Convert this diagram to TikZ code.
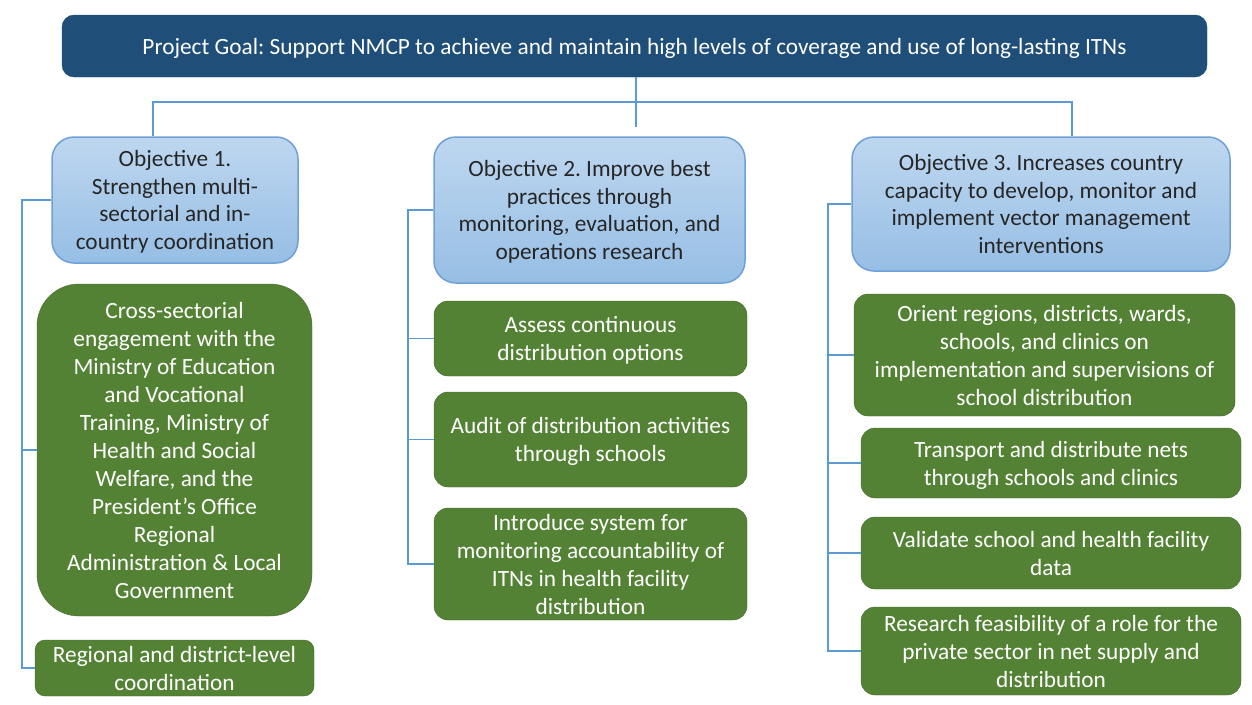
\documentclass[tikz,border=0pt]{standalone}
\usepackage{fontspec}
\setmainfont{Carlito}
\frenchspacing
\usetikzlibrary{calc}
\definecolor{goalblue}{RGB}{31,78,121}
\definecolor{objtop}{RGB}{190,215,240}
\definecolor{objbot}{RGB}{150,190,228}
\definecolor{objedge}{RGB}{110,160,215}
\definecolor{taskgreen}{RGB}{84,130,53}
\definecolor{taskedge}{RGB}{70,105,50}
\definecolor{linkblue}{RGB}{91,155,213}

\tikzset{
  goalbox/.style={draw=goalblue, fill=goalblue, text=white, rounded corners=12pt,
    align=center, inner sep=0pt, text depth=0pt, font=\fontsize{23.3}{28}\selectfont},
  objbox/.style={draw=objedge, line width=1.5pt, top color=objtop, bottom color=objbot,
    rounded corners=22pt, align=center, inner sep=0pt, text depth=0pt, text=black!85,
    font=\fontsize{23.3}{27.5}\selectfont},
  taskbox/.style={draw=taskedge, fill=taskgreen, text=white, rounded corners=14pt,
    align=center, inner sep=0pt, text depth=0pt, font=\fontsize{23.3}{28}\selectfont},
  link/.style={draw=linkblue, line width=1.2pt}
}

\begin{document}
\begin{tikzpicture}[x=1pt,y=-1pt]
\useasboundingbox (0,0) rectangle (1252,704);

% goal
\node[goalbox, minimum width=1145pt, minimum height=62pt] (goal) at (634.5,46)
  {Project Goal: Support NMCP to achieve and maintain high levels of coverage and use of long-lasting ITNs};

% objectives
\node[objbox, minimum width=246pt, minimum height=126pt] (objA) at (175,200)
  {Objective 1.\\Strengthen multi-\\sectorial and in-\\country coordination};
\node[objbox, minimum width=311pt, minimum height=146pt] (objB) at (589.5,210)
  {Objective 2. Improve best\\practices through\\monitoring, evaluation, and\\operations research};
\node[objbox, minimum width=378pt, minimum height=134pt] (objC) at (1041,204)
  {Objective 3. Increases country\\capacity to develop, monitor and\\implement vector management\\interventions};

% column 1
\node[taskbox, rounded corners=42pt, minimum width=275pt, minimum height=332pt] (taskA1) at (174.5,450)
  {Cross-sectorial\\engagement with the\\Ministry of Education\\and Vocational\\Training, Ministry of\\Health and Social\\Welfare, and the\\President’s Office\\Regional\\Administration \& Local\\Government};
\node[taskbox, rounded corners=10pt, minimum width=279pt, minimum height=56pt] (taskA2) at (174.5,668)
  {Regional and district-level\\coordination};

% column 2
\node[taskbox, minimum width=313pt, minimum height=75pt] (taskB1) at (590.5,338.5)
  {Assess continuous\\distribution options};
\node[taskbox, minimum width=313pt, minimum height=95pt] (taskB2) at (590.5,439.5)
  {Audit of distribution activities\\through schools};
\node[taskbox, minimum width=313pt, minimum height=112pt] (taskB3) at (590.5,564)
  {Introduce system for\\monitoring accountability of\\ITNs in health facility\\distribution};

% column 3
\node[taskbox, minimum width=381pt, minimum height=122pt] (taskC1) at (1044.5,355)
  {Orient regions, districts, wards,\\schools, and clinics on\\implementation and supervisions of\\school distribution};
\node[taskbox, minimum width=380pt, minimum height=70pt] (taskC2) at (1051,463)
  {Transport and distribute nets\\through schools and clinics};
\node[taskbox, minimum width=380pt, minimum height=72pt] (taskC3) at (1051,553)
  {Validate school and health facility\\data};
\node[taskbox, minimum width=380pt, minimum height=88pt] (taskC4) at (1051,651)
  {Research feasibility of a role for the\\private sector in net supply and\\distribution};

% goal to objectives
\coordinate (hub) at (636,127);
\coordinate (busL) at (153,102);
\coordinate (busR) at (1072,102);
\draw[link] (goal.south -| hub) -- (hub);
\draw[link] (busL |- objA.north) -- (busL) -- (busR) -- (busR |- objC.north);

% objective spines
\coordinate (spineA) at (22,0);
\coordinate (spineB) at (408,0);
\coordinate (spineC) at (828,0);
\draw[link] (objA.west) -- (objA.west -| spineA) -- (taskA2.west -| spineA) -- (taskA2.west);
\draw[link] (taskA1.west -| spineA) -- (taskA1.west);
\draw[link] (objB.west) -- (objB.west -| spineB) -- (taskB3.west -| spineB) -- (taskB3.west);
\draw[link] (taskB1.west -| spineB) -- (taskB1.west);
\draw[link] (taskB2.west -| spineB) -- (taskB2.west);
\draw[link] (objC.west) -- (objC.west -| spineC) -- (taskC4.west -| spineC) -- (taskC4.west);
\foreach \t in {taskC1,taskC2,taskC3}
  \draw[link] (\t.west -| spineC) -- (\t.west);
\end{tikzpicture}
\end{document}
